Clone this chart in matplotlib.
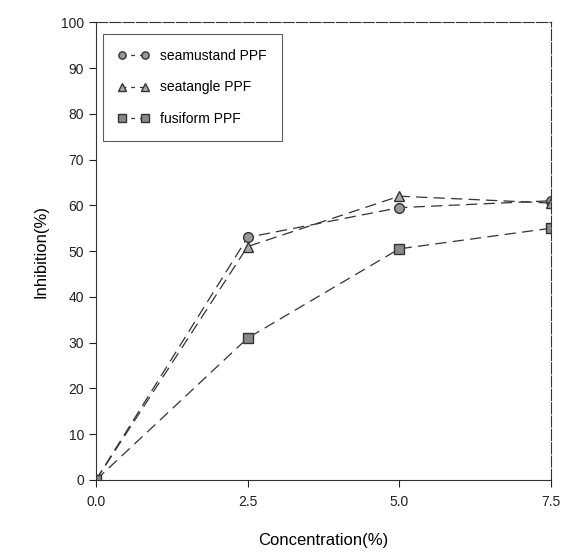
import numpy as np
import matplotlib
matplotlib.use('Agg')
import matplotlib.pyplot as plt

plt.rcParams['font.family'] = ['Liberation Sans', 'DejaVu Sans']

conc = [0.0, 2.5, 5.0, 7.5]
seamustand = [0, 53, 59.5, 61]
seatangle = [0, 51, 62, 60.5]
fusiform = [0, 31, 50.5, 55]
labels = ['seamustand PPF', 'seatangle PPF', 'fusiform PPF']

fig = plt.figure(figsize=(5.73, 5.56), dpi=100)
ax = fig.add_axes([0.1675, 0.1367, 0.794, 0.8233])

dash = (0, (9, 5))
ax.plot(conc, seamustand, linestyle=dash, color='#333333', lw=0.9,
        marker='o', ms=7, mfc='#999999', mec='#333333')
ax.plot(conc, seatangle, linestyle=dash, color='#333333', lw=0.9,
        marker='^', ms=7, mfc='#aaaaaa', mec='#333333')
ax.plot(conc, fusiform, linestyle=dash, color='#333333', lw=0.9,
        marker='s', ms=7, mfc='#888888', mec='#333333')

ax.set_xlim(0, 7.5)
ax.set_ylim(0, 100)
ax.set_xticks([0, 2.5, 5.0, 7.5])
ax.set_xticklabels(['0.0', '2.5', '5.0', '7.5'])
ax.set_yticks(range(0, 101, 10))
ax.tick_params(direction='out', length=5, width=0.8, labelsize=10, colors='#222222')
ax.tick_params(axis='x', pad=6)
ax.tick_params(top=False, right=False)
for s in ax.spines.values():
    s.set_linewidth(0.8)
    s.set_color('#333333')
ax.spines['top'].set_linestyle((0, (10, 2)))
ax.spines['right'].set_linestyle((0, (10, 2)))

ax.set_xlabel('Concentration(%)', fontsize=12, labelpad=17)
ax.set_ylabel('Inhibition(%)', fontsize=12, labelpad=9)

leg = ax.legend(labels, loc='upper left', bbox_to_anchor=(0.0, 0.99),
                fancybox=False, edgecolor='#333333', fontsize=10,
                numpoints=2, handlelength=2.2, handletextpad=0.8,
                borderpad=1.1, labelspacing=1.25, markerscale=0.75)
for h in leg.legend_handles:
    h.set_linestyle((0, (3, 4)))
leg.get_frame().set_linewidth(0.8)

fig.savefig('out.png', dpi=100)
